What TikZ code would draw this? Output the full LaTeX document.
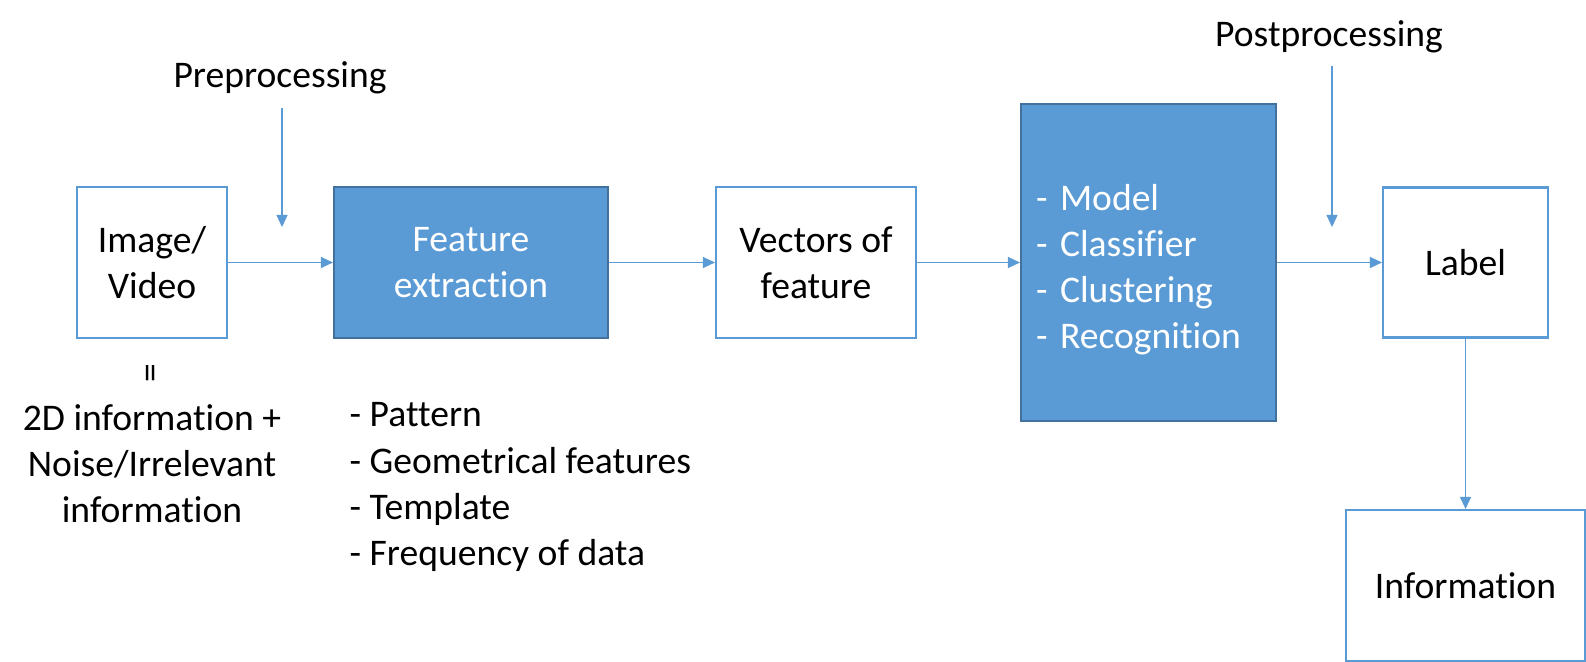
\documentclass[tikz,border=0pt]{standalone}
\usepackage{fontspec}
\setmainfont{Carlito}[Ligatures=NoCommon]
\usepackage{xcolor}
\usetikzlibrary{arrows.meta,positioning}
\definecolor{boxblue}{HTML}{5B9BD5}
\definecolor{boxedge}{HTML}{41719C}

\begin{document}
\begin{tikzpicture}[
  every node/.style={font=\fontsize{10.7}{13.1}\selectfont},
  plainbox/.style={draw=boxblue, line width=0.6pt, fill=white, align=center,
    minimum height=1.51cm},
  fullbox/.style={draw=boxedge, line width=0.6pt, fill=boxblue, text=white,
    minimum height=1.51cm},
  txt/.style={inner sep=0pt},
  flow/.style={draw=boxblue, line width=0.35pt,
    -{Triangle[length=1.2mm,width=1.1mm]}},
  >=Stealth
]
\useasboundingbox (0,0) rectangle (15.86,-6.62);

% ── Main chain ─────────────────────────────────────────────────────────────
\node[plainbox, minimum width=1.50cm] (img) at (1.52,-2.625) {Image/\\Video};
\node[fullbox, align=center, minimum width=2.74cm] (feat) at (4.71,-2.625)
  {Feature\\extraction};
\node[plainbox, minimum width=2.00cm] (vec) at (8.16,-2.625)
  {Vectors of\\feature};
\node[fullbox, align=left, minimum height=3.17cm, text width=2.25cm,
  inner xsep=0.15cm] (model) at (11.485,-2.625)
  {\rule{0pt}{4.0mm}- Model\\- Classifier\\- Clustering\\- Recognition};
\node[plainbox, minimum width=1.65cm, minimum height=1.50cm] (lab)
  at (14.655,-2.625) {Label};
\node[plainbox, minimum width=2.39cm] (info) at (14.655,-5.855)
  {Information};

\draw[flow] (img.east) -- (feat.west);
\draw[flow] (feat.east) -- (vec.west);
\draw[flow] (vec.east) -- (model.west);
\draw[flow] (model.east |- lab.west) -- (lab.west);
\draw[flow] (lab.south) -- (info.north);

% ── Pre- and postprocessing ───────────────────────────────────────────────
\node[txt] (pre) at (2.80,-0.78) {Preprocessing};
\coordinate (preend) at (2.82,-2.27);
\draw[flow, shorten <=1.3mm] (pre.south -| preend) -- (preend);

\node[txt] (post) at (13.29,-0.37) {Postprocessing};
\coordinate (postend) at (13.32,-2.27);
\draw[flow, shorten <=1.2mm] (post.south -| postend) -- (postend);

% ── Notes under the boxes ─────────────────────────────────────────────────
\node[txt, rotate=90] (eq) at (1.54,-3.73) {=};
\node[txt, align=center] (noise) at (1.52,-4.64)
  {2D information +\\Noise/Irrelevant\\information};
\node[txt, align=left, anchor=west] (kinds) at (3.49,-4.87)
  {- Pattern\\- Geometrical features\\- Template\\- Frequency of data};

\end{tikzpicture}
\end{document}
